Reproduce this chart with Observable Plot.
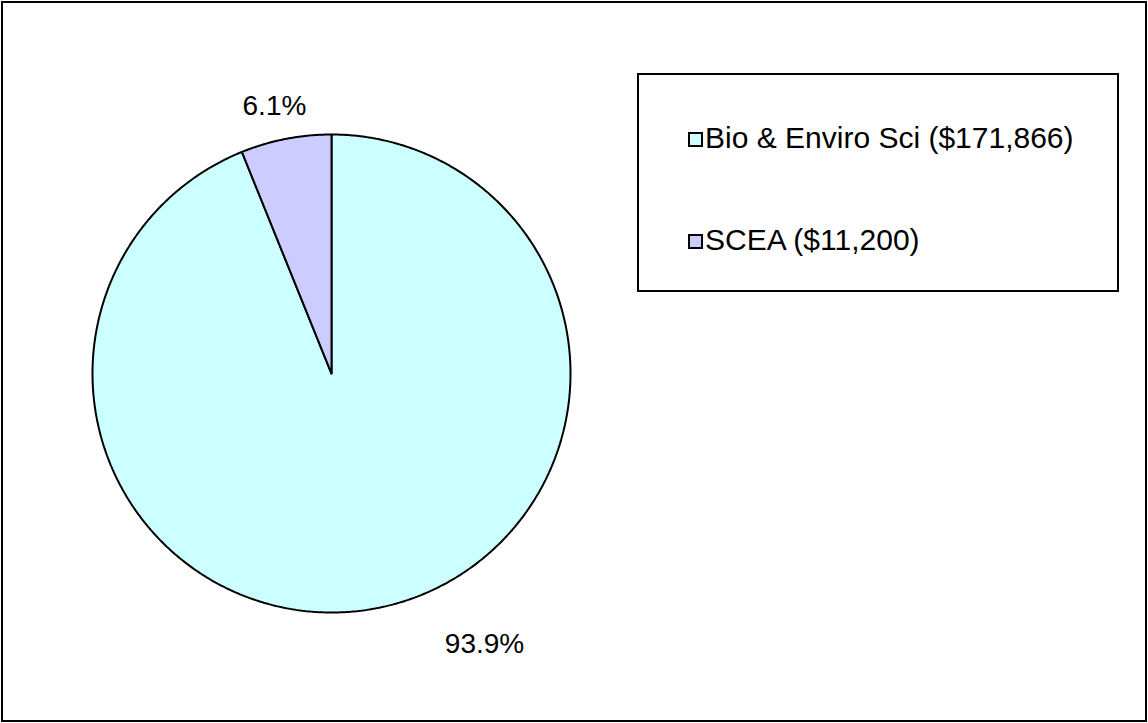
<!DOCTYPE html>
<html>
<head>
<meta charset="utf-8">
<script src="https://cdn.jsdelivr.net/npm/d3@7"></script>
<script src="https://cdn.jsdelivr.net/npm/@observablehq/plot@0.6"></script>
<style>
  html, body { margin: 0; padding: 0; background: #fff; }
  #wrap { position: relative; width: 1148px; height: 723px; overflow: hidden; font-family: "Liberation Sans", Arial, sans-serif; }
  #frame { position: absolute; left: 1px; top: 1px; width: 1146px; height: 721px; box-sizing: border-box; border: 2px solid #000; pointer-events: none; }
  #chart { position: absolute; left: 0; top: 0; }
  #legend { position: absolute; left: 637px; top: 73px; width: 482px; height: 219px; box-sizing: border-box; border: 2px solid #000; background: #fff; }
  .item { position: absolute; left: 49px; display: flex; align-items: center; font-size: 30px; color: #000; white-space: nowrap; line-height: 1; }
  .key { flex: none; display: inline-block; width: 15px; height: 15px; box-sizing: border-box; border: 2px solid #000; margin-right: 2px; position: relative; top: 1px; }
</style>
</head>
<body>
<div id="wrap">
  <div id="chart"></div>
  <div id="legend"></div>
  <div id="frame"></div>
</div>
<script>
// ---- data ----
const categories = ["Bio & Enviro Sci ($171,866)", "SCEA ($11,200)"];
const values = [171866, 11200];
const percentLabels = ["93.9%", "6.1%"];
const colors = ["#CCFFFF", "#CCCCFF"];

// ---- layout ----
const W = 1148, H = 723;
const cx = 331, cy = 373, R = 239;
const labelRadius = 1.14;
const labelNudge = [[101, 3], [-5, 0]];
const legendTops = [48, 150];

const pie = d3.pie().sort(null)(values);

// slice polygons in unit coordinates (angle clockwise from 12 o'clock)
const slices = pie.map((p, i) => {
  const pts = [{x: 0, y: 0, cat: categories[i]}];
  const n = Math.max(2, Math.ceil((p.endAngle - p.startAngle) / (Math.PI / 360)));
  for (let k = 0; k <= n; k++) {
    const a = p.startAngle + (p.endAngle - p.startAngle) * k / n;
    pts.push({x: Math.sin(a), y: Math.cos(a), cat: categories[i]});
  }
  pts.push({x: 0, y: 0, cat: categories[i]});
  return pts;
});

const labels = pie.map((p, i) => {
  const a = (p.startAngle + p.endAngle) / 2;
  return {x: Math.sin(a) * labelRadius, y: Math.cos(a) * labelRadius, text: percentLabels[i], i};
});

const plot = Plot.plot({
  width: W,
  height: H,
  margin: 0,
  x: {domain: [-1, 1], range: [cx - R, cx + R], axis: null},
  y: {domain: [-1, 1], range: [cy + R, cy - R], axis: null},
  style: {background: "transparent", fontFamily: "'Liberation Sans', Arial, sans-serif"},
  marks: [
    ...slices.map((s, i) => Plot.line(s, {x: "x", y: "y", fill: colors[i], stroke: "#000", strokeWidth: 2, strokeLinejoin: "miter", curve: "linear"})),
    ...labels.map(l => Plot.text([l], {x: "x", y: "y", text: "text", fontSize: 28, fill: "#000", dx: labelNudge[l.i][0], dy: labelNudge[l.i][1]}))
  ]
});
document.getElementById("chart").appendChild(plot);

// legend
const leg = document.getElementById("legend");
categories.forEach((c, i) => {
  const it = document.createElement("div");
  it.className = "item";
  it.style.top = legendTops[i] + "px";
  const k = document.createElement("span");
  k.className = "key";
  k.style.background = colors[i];
  const t = document.createElement("span");
  t.textContent = c;
  it.appendChild(k); it.appendChild(t);
  leg.appendChild(it);
});
</script>
</body>
</html>
